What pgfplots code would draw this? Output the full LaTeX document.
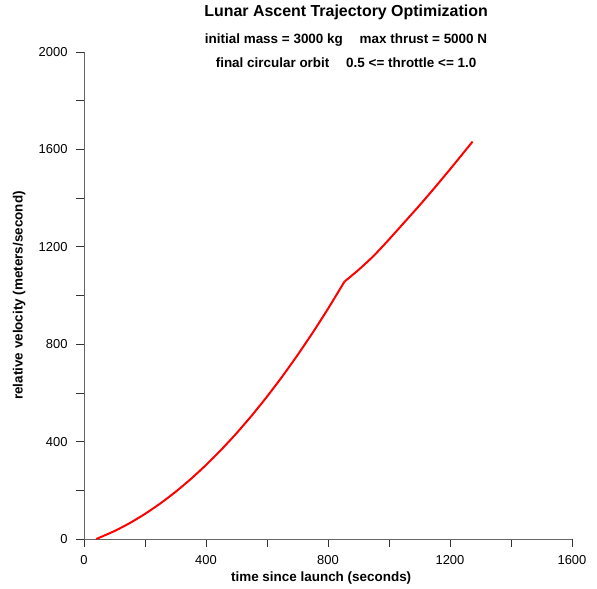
\documentclass[border=0pt]{standalone}
\usepackage{fontspec}
\setmainfont{Liberation Sans}
\usepackage{pgfplots}
\pgfplotsset{compat=1.18}
\begin{document}
\begin{tikzpicture}
\begin{axis}[
  scale only axis,
  width=488bp, height=487bp,
  xmin=0, xmax=1600, ymin=0, ymax=2000,
  axis x line*=bottom, axis y line*=left,
  axis line style={draw=black!60, line width=0.8pt},
  xtick={0,200,...,1600},
  xticklabels={0,,400,,800,,1200,,1600},
  ytick={0,200,...,2000},
  yticklabels={0,,400,,800,,1200,,1600,,2000},
  tick align=outside,
  major tick length=8bp,
  tick style={black!80, line width=0.8pt},
  /pgf/number format/assume math mode=true,
  ticklabel style={font=\fontsize{13}{15}\selectfont},
  xticklabel style={yshift=-5bp},
  yticklabel style={xshift=-5bp},
  xlabel={\bfseries time since launch (seconds)},
  ylabel={\bfseries relative velocity (meters/second)},
  label style={font=\fontsize{13.5}{15}\selectfont},
  xlabel style={at={(axis description cs:0.486,-0.080)}, anchor=center},
  ylabel style={at={(axis description cs:-0.133,0.5)}, anchor=center},
  clip=false,
]
\addplot[red, line width=2pt, smooth, tension=0.3] coordinates {
(40,0) (100,32.6) (150,65.3) (200,103) (250,145.7) (300,193.4) (350,246.1)
(400,303.8) (450,366.5) (500,434.2) (550,506.9) (600,584.6) (650,667.3)
(700,755) (750,847.7) (800,945.4) (854,1057)
};
\addplot[red, line width=2pt, smooth, tension=0.3] coordinates {
(854,1057) (900,1105) (950,1163) (1000,1230) (1050,1300) (1100,1370)
(1150,1443) (1200,1518) (1250,1595) (1274,1632)
};
\node[font=\fontsize{16}{18}\selectfont\bfseries] at ([yshift=40bp]rel axis cs:0.537,1) {Lunar Ascent Trajectory Optimization};
\node[font=\fontsize{13.5}{15}\selectfont\bfseries] at ([yshift=12bp]rel axis cs:0.537,1) {initial mass = 3000 kg\hspace{1.25em}max thrust = 5000 N};
\node[font=\fontsize{13.5}{15}\selectfont\bfseries] at ([yshift=-11bp]rel axis cs:0.537,1) {final circular orbit\hspace{1.25em}0.5 <= throttle <= 1.0};
\end{axis}
\path (current axis.south west) ++(-84bp,-50bp) rectangle ++(597bp,589bp);
\end{tikzpicture}
\end{document}
